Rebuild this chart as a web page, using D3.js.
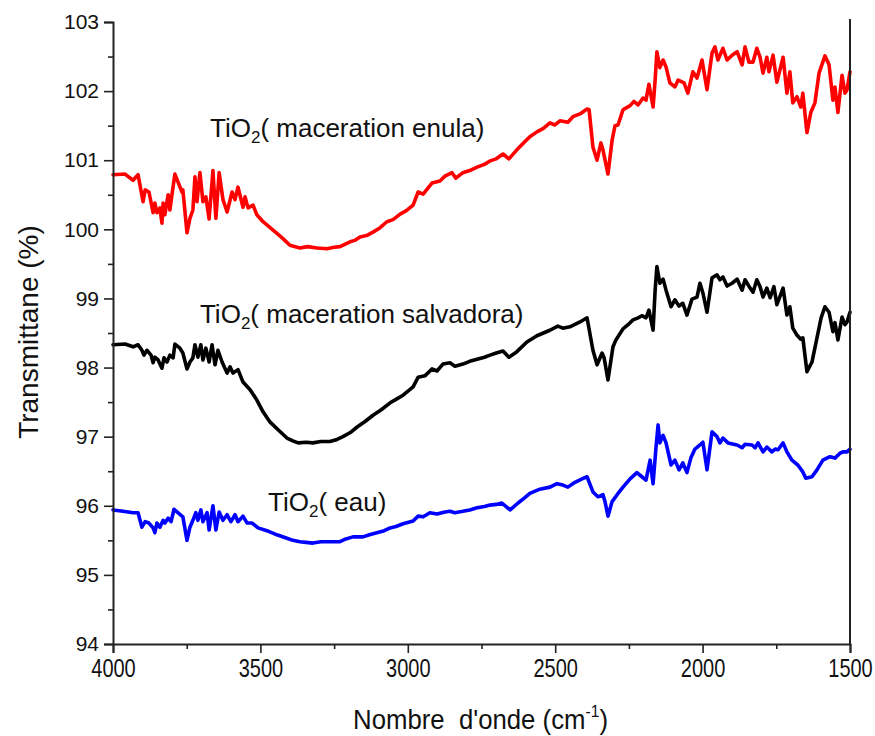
<!DOCTYPE html>
<html>
<head>
<meta charset="utf-8">
<script src="https://cdn.jsdelivr.net/npm/d3@7"></script>
<style>
  html, body { margin: 0; padding: 0; background: #fff; }
  svg { display: block; }
  text { font-family: "Liberation Sans", Arial, sans-serif; fill: #111; }
</style>
</head>
<body>
<svg id="chart" width="875" height="736"></svg>
<script>
// FTIR spectra: [wavenumber (cm-1), transmittance (%)]
const enula = [[4000,100.79],[3959,100.80],[3932,100.71],[3915,100.79],[3898,100.40],[3891,100.57],[3878,100.54],[3864,100.24],[3858,100.38],[3851,100.24],[3841,100.31],[3834,100.09],[3830,100.38],[3824,100.21],[3813,100.50],[3807,100.28],[3800,100.50],[3790,100.80],[3780,100.69],[3766,100.54],[3763,100.57],[3749,99.95],[3739,100.16],[3729,100.28],[3722,100.76],[3715,100.40],[3705,100.82],[3695,100.40],[3685,100.47],[3674,100.15],[3661,100.85],[3651,100.16],[3640,100.82],[3627,100.43],[3613,100.25],[3596,100.54],[3586,100.43],[3576,100.61],[3559,100.32],[3552,100.47],[3542,100.31],[3525,100.35],[3512,100.21],[3491,100.11],[3457,99.99],[3427,99.88],[3400,99.77],[3366,99.73],[3340,99.75],[3308,99.73],[3274,99.72],[3250,99.74],[3230,99.75],[3196,99.82],[3180,99.84],[3162,99.89],[3140,99.91],[3118,99.96],[3095,100.02],[3071,100.11],[3050,100.14],[3026,100.22],[3005,100.27],[2982,100.35],[2965,100.54],[2948,100.51],[2918,100.67],[2891,100.70],[2874,100.77],[2850,100.82],[2837,100.74],[2813,100.82],[2790,100.85],[2765,100.90],[2740,100.94],[2721,100.99],[2700,101.02],[2677,101.09],[2657,101.02],[2630,101.15],[2605,101.26],[2586,101.34],[2562,101.41],[2540,101.46],[2518,101.54],[2501,101.51],[2484,101.57],[2457,101.55],[2440,101.63],[2416,101.67],[2392,101.74],[2385,101.73],[2372,101.19],[2358,101.00],[2345,101.25],[2338,101.15],[2321,100.80],[2307,101.29],[2297,101.50],[2287,101.51],[2270,101.73],[2246,101.79],[2233,101.85],[2219,101.80],[2202,101.90],[2192,101.87],[2182,102.10],[2168,101.77],[2161,102.16],[2155,102.57],[2145,102.34],[2134,102.45],[2124,102.35],[2111,102.12],[2094,102.06],[2083,102.16],[2063,102.12],[2050,101.97],[2033,102.28],[2019,102.19],[2002,102.45],[1985,102.02],[1968,102.55],[1958,102.64],[1948,102.45],[1931,102.62],[1917,102.45],[1900,102.52],[1883,102.57],[1866,102.38],[1856,102.64],[1843,102.42],[1829,102.42],[1816,102.62],[1805,102.49],[1795,102.26],[1782,102.49],[1775,102.28],[1761,102.52],[1748,102.13],[1727,102.49],[1714,101.97],[1704,102.28],[1694,101.83],[1680,101.92],[1667,101.77],[1660,101.97],[1646,101.40],[1633,101.69],[1619,101.83],[1605,102.26],[1585,102.51],[1571,102.38],[1558,101.87],[1551,102.06],[1541,101.69],[1527,102.23],[1517,101.97],[1510,102.02],[1500,102.28]];

const salvadora = [[4000,98.33],[3959,98.34],[3932,98.30],[3915,98.33],[3902,98.25],[3895,98.18],[3885,98.25],[3871,98.18],[3864,98.07],[3858,98.15],[3847,98.11],[3834,97.99],[3827,98.14],[3817,98.08],[3807,98.18],[3796,98.14],[3790,98.34],[3773,98.28],[3763,98.21],[3749,97.98],[3739,98.08],[3729,98.14],[3722,98.33],[3712,98.15],[3702,98.33],[3695,98.11],[3685,98.28],[3674,98.08],[3664,98.33],[3654,98.04],[3644,98.25],[3630,98.08],[3613,97.92],[3603,98.01],[3593,97.92],[3576,97.97],[3559,97.79],[3535,97.68],[3512,97.53],[3491,97.36],[3467,97.21],[3440,97.10],[3410,96.98],[3390,96.94],[3372,96.91],[3345,96.92],[3322,96.91],[3295,96.93],[3264,96.93],[3240,96.96],[3220,97.00],[3195,97.06],[3172,97.14],[3145,97.22],[3118,97.31],[3090,97.39],[3060,97.49],[3040,97.54],[3016,97.60],[2982,97.72],[2965,97.86],[2942,97.88],[2918,97.98],[2901,97.95],[2881,98.05],[2857,98.07],[2840,98.02],[2813,98.05],[2790,98.09],[2765,98.12],[2740,98.15],[2721,98.18],[2700,98.21],[2677,98.24],[2657,98.15],[2630,98.23],[2596,98.37],[2562,98.46],[2540,98.50],[2518,98.54],[2491,98.60],[2474,98.57],[2450,98.59],[2416,98.66],[2392,98.72],[2372,98.25],[2358,98.04],[2341,98.21],[2334,98.14],[2321,97.82],[2304,98.30],[2294,98.40],[2270,98.56],[2253,98.62],[2236,98.69],[2219,98.72],[2206,98.75],[2192,98.72],[2182,98.83],[2168,98.54],[2161,99.12],[2155,99.46],[2145,99.22],[2134,99.28],[2124,99.12],[2107,98.88],[2094,98.98],[2080,98.89],[2067,98.93],[2053,98.76],[2036,98.99],[2019,99.02],[2009,99.22],[1999,99.08],[1985,98.80],[1968,99.30],[1951,99.34],[1941,99.27],[1931,99.31],[1917,99.18],[1900,99.22],[1883,99.28],[1866,99.12],[1856,99.27],[1839,99.15],[1829,99.09],[1816,99.27],[1805,99.17],[1795,99.02],[1782,99.15],[1771,99.01],[1758,99.17],[1748,98.91],[1727,99.15],[1714,98.76],[1704,98.88],[1694,98.57],[1680,98.47],[1667,98.41],[1660,98.43],[1646,97.94],[1629,98.08],[1612,98.43],[1598,98.72],[1585,98.88],[1571,98.80],[1558,98.52],[1551,98.65],[1541,98.40],[1527,98.73],[1517,98.62],[1510,98.66],[1500,98.80]];

const eau = [[4000,95.94],[3966,95.92],[3932,95.90],[3915,95.90],[3902,95.69],[3891,95.77],[3878,95.75],[3864,95.68],[3858,95.61],[3851,95.75],[3841,95.69],[3830,95.79],[3824,95.75],[3813,95.82],[3803,95.77],[3793,95.95],[3780,95.90],[3763,95.84],[3749,95.50],[3739,95.69],[3729,95.79],[3719,95.90],[3712,95.79],[3702,95.94],[3695,95.77],[3681,95.90],[3674,95.65],[3661,96.00],[3651,95.65],[3640,95.91],[3627,95.79],[3613,95.87],[3600,95.77],[3586,95.87],[3576,95.77],[3559,95.85],[3545,95.75],[3528,95.75],[3508,95.68],[3478,95.64],[3444,95.58],[3410,95.53],[3390,95.50],[3366,95.48],[3345,95.47],[3322,95.46],[3295,95.48],[3264,95.48],[3230,95.48],[3210,95.52],[3186,95.55],[3152,95.55],[3130,95.58],[3105,95.61],[3080,95.64],[3060,95.68],[3040,95.70],[3016,95.74],[2982,95.78],[2965,95.85],[2948,95.84],[2925,95.90],[2901,95.88],[2874,95.91],[2857,95.92],[2840,95.90],[2813,95.92],[2790,95.94],[2765,95.97],[2740,95.99],[2721,96.01],[2700,96.02],[2681,96.04],[2653,95.94],[2626,96.04],[2605,96.11],[2586,96.18],[2552,96.24],[2518,96.27],[2494,96.32],[2474,96.30],[2457,96.27],[2433,96.34],[2409,96.39],[2392,96.42],[2372,96.20],[2355,96.13],[2338,96.16],[2331,96.06],[2321,95.85],[2307,96.06],[2290,96.16],[2270,96.27],[2246,96.39],[2223,96.48],[2206,96.42],[2192,96.37],[2178,96.66],[2168,96.32],[2158,96.85],[2151,97.17],[2145,96.91],[2134,97.02],[2124,96.91],[2107,96.59],[2094,96.66],[2080,96.52],[2067,96.62],[2053,96.48],[2040,96.69],[2026,96.82],[2009,96.88],[1999,96.92],[1985,96.52],[1968,97.07],[1951,97.00],[1941,96.91],[1931,96.98],[1914,96.91],[1883,96.88],[1866,96.84],[1856,96.89],[1832,96.88],[1822,96.84],[1812,96.91],[1795,96.78],[1782,96.85],[1765,96.78],[1754,96.82],[1744,96.81],[1727,96.91],[1714,96.78],[1697,96.66],[1677,96.59],[1660,96.49],[1650,96.40],[1629,96.42],[1612,96.52],[1592,96.66],[1568,96.71],[1551,96.69],[1534,96.76],[1524,96.78],[1510,96.78],[1500,96.82]];

const seriesNames = ["maceration enula", "maceration salvadora", "eau"];
const seriesColors = ["#ff0000", "#000000", "#0000ff"];
const seriesData = [enula, salvadora, eau];
// label anchor: [wavenumber, transmittance] at the start of each label's baseline
const labelAnchors = [[3671, 101.34], [3705, 98.65], [3474, 95.92]];

const xTicks = [4000, 3500, 3000, 2500, 2000, 1500];
const xMinorTicks = [3750, 3250, 2750, 2250, 1750];
const yTicks = [94, 95, 96, 97, 98, 99, 100, 101, 102, 103];
const yMinorTicks = [94.5, 95.5, 96.5, 97.5, 98.5, 99.5, 100.5, 101.5, 102.5];
const xTitle = "Nombre  d'onde (cm";
const yTitle = "Transmittane (%)";

const margin = { top: 22, right: 25, bottom: 92, left: 113 };
const W = 875, H = 736;
const innerW = W - margin.left - margin.right;
const innerH = H - margin.top - margin.bottom;

const svg = d3.select("#chart");
const g = svg.append("g").attr("transform", `translate(${margin.left},${margin.top})`);

const x = d3.scaleLinear().domain([4000, 1500]).range([0, innerW]);
const y = d3.scaleLinear().domain([94, 103]).range([innerH, 0]);

// spectra
const line = d3.line().x(d => x(d[0])).y(d => y(d[1])).curve(d3.curveLinear);
seriesData.forEach((data, i) => {
  g.append("path")
    .datum(data)
    .attr("fill", "none")
    .attr("stroke", seriesColors[i])
    .attr("stroke-width", 3.6)
    .attr("stroke-linejoin", "round")
    .attr("stroke-linecap", "round")
    .attr("d", line);
});

// axes
const axisColor = "#222";
const xAxis = g.append("g").attr("transform", `translate(0,${innerH})`)
  .call(d3.axisBottom(x).tickValues(xTicks).tickSize(9).tickPadding(6).tickFormat(d3.format("d")));
g.append("g").attr("transform", `translate(0,${innerH})`)
  .call(d3.axisBottom(x).tickValues(xMinorTicks).tickSize(5).tickFormat(""))
  .call(a => a.select(".domain").remove());
const yAxis = g.append("g")
  .call(d3.axisLeft(y).tickValues(yTicks).tickSize(9).tickPadding(5).tickFormat(d3.format("d")));
g.append("g")
  .call(d3.axisLeft(y).tickValues(yMinorTicks).tickSize(5).tickFormat(""))
  .call(a => a.select(".domain").remove());
// right frame line
g.append("line")
  .attr("x1", innerW).attr("x2", innerW)
  .attr("y1", -3).attr("y2", innerH)
  .attr("stroke", axisColor).attr("stroke-width", 2);

g.selectAll(".domain").attr("stroke", axisColor).attr("stroke-width", 2);
g.selectAll(".tick line").attr("stroke", axisColor).attr("stroke-width", 1.6);

// condensed x tick labels
xAxis.selectAll(".tick text")
  .attr("font-size", 25)
  .attr("transform", "scale(0.8,1)")
  .attr("fill", "#111")
  .style("font-family", "'Liberation Sans', Arial, sans-serif");
yAxis.selectAll(".tick text")
  .attr("font-size", 21)
  .attr("fill", "#111")
  .style("font-family", "'Liberation Sans', Arial, sans-serif");

// axis titles
const xt = svg.append("text")
  .attr("transform", `translate(${margin.left + innerW / 2 - 1},729) scale(0.92,1)`)
  .attr("text-anchor", "middle")
  .attr("font-size", 28)
  .style("white-space", "pre");
xt.append("tspan").text(xTitle);
xt.append("tspan").attr("font-size", 17).attr("dy", -12).text("-1");
xt.append("tspan").attr("dy", 12).text(")");

svg.append("text")
  .attr("transform", `translate(38,${margin.top + innerH / 2 - 1}) rotate(-90)`)
  .attr("text-anchor", "middle")
  .attr("font-size", 28)
  .text(yTitle);

// series labels
seriesNames.forEach((name, i) => {
  const t = g.append("text")
    .attr("x", x(labelAnchors[i][0]))
    .attr("y", y(labelAnchors[i][1]))
    .attr("font-size", 26);
  t.append("tspan").text("TiO");
  t.append("tspan").attr("font-size", 17).attr("dy", 6).text("2");
  t.append("tspan").attr("dy", -6).text("( " + name + ")");
});
</script>
</body>
</html>
